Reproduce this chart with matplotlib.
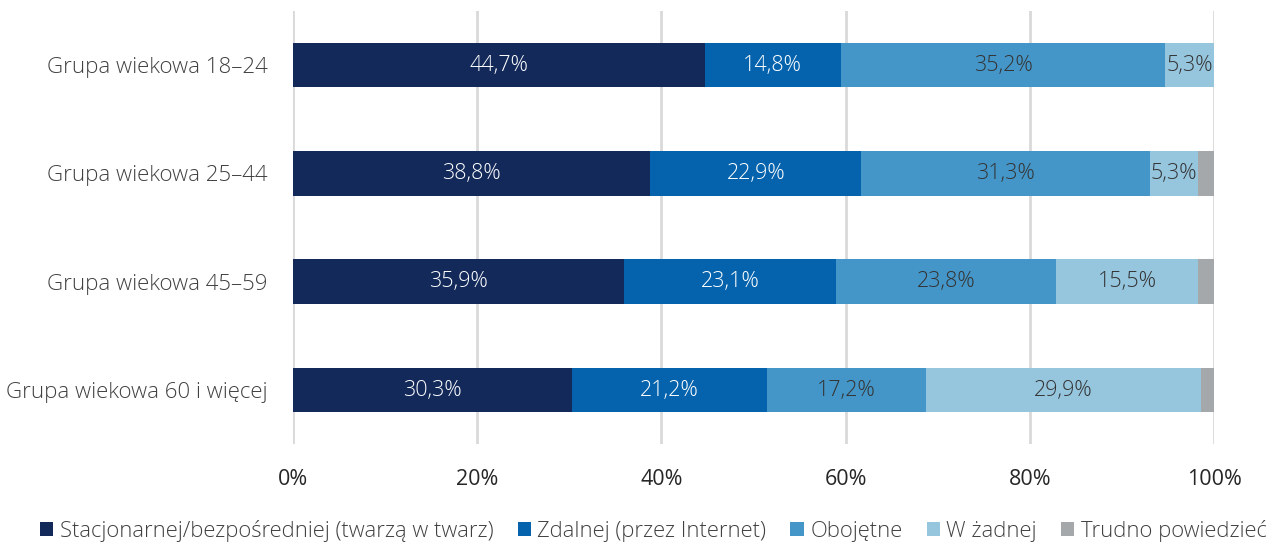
import matplotlib.pyplot as plt
import numpy as np

plt.rcParams['font.family'] = ['Open Sans', 'DejaVu Sans']

groups = ["Grupa wiekowa 18–24", "Grupa wiekowa 25–44",
          "Grupa wiekowa 45–59", "Grupa wiekowa 60 i więcej"]
series_names = ["Stacjonarnej/bezpośredniej (twarzą w twarz)",
                "Zdalnej (przez Internet)", "Obojętne", "W żadnej",
                "Trudno powiedzieć"]
stacjonarnej = [44.7, 38.8, 35.9, 30.3]
zdalnej = [14.8, 22.9, 23.1, 21.2]
obojetne = [35.2, 31.3, 23.8, 17.2]
w_zadnej = [5.3, 5.3, 15.5, 29.9]
trudno = [0.0, 1.7, 1.7, 1.4]

colors = ["#12295a", "#0563ad", "#4596c8", "#96c5de", "#a5a8ab"]
label_colors = ["white", "white", "#333333", "#333333", None]

fig = plt.figure(figsize=(12.76, 5.45), dpi=100)
ax = fig.add_axes([0.2296, 0.185, 0.9514 - 0.2296, 0.795])

data = [stacjonarnej, zdalnej, obojetne, w_zadnej, trudno]
y = np.arange(len(groups))
left = np.zeros(len(groups))
for vals, name, col, lc in zip(data, series_names, colors, label_colors):
    vals = np.array(vals)
    bars = ax.barh(y, vals, left=left, height=0.41, color=col, label=name)
    if lc is not None:
        for b, v in zip(bars, vals):
            ax.text(b.get_x() + b.get_width() / 2, b.get_y() + b.get_height() / 2,
                    f"{v:.1f}%".replace(".", ","), ha="center", va="center",
                    color=lc, fontsize=15.5, fontweight="light")
    left += vals

ax.set_xlim(0, 100)
ax.set_ylim(3.5, -0.5)
ax.set_xticks([0, 20, 40, 60, 80, 100])
ax.set_xticklabels([f"{t}%" for t in [0, 20, 40, 60, 80, 100]], fontsize=15.5, color="#262626")
ax.set_yticks(y)
ax.set_yticklabels(groups, fontsize=16, color="#404040", fontweight="light")
ax.tick_params(axis="both", length=0)
ax.tick_params(axis="x", pad=18)
ax.tick_params(axis="y", pad=18)
ax.xaxis.grid(True, color="#d9d9d9", linewidth=2)
ax.set_axisbelow(True)
for s in ax.spines.values():
    s.set_visible(False)

fig.legend(loc="lower center", bbox_to_anchor=(0.512, -0.03), ncol=5, frameon=False,
           prop={"size": 15.8, "weight": "light"}, handlelength=0.6, handleheight=0.6,
           handletextpad=0.3, columnspacing=1.1, labelcolor="#404040")

fig.savefig("out.png", dpi=100)
